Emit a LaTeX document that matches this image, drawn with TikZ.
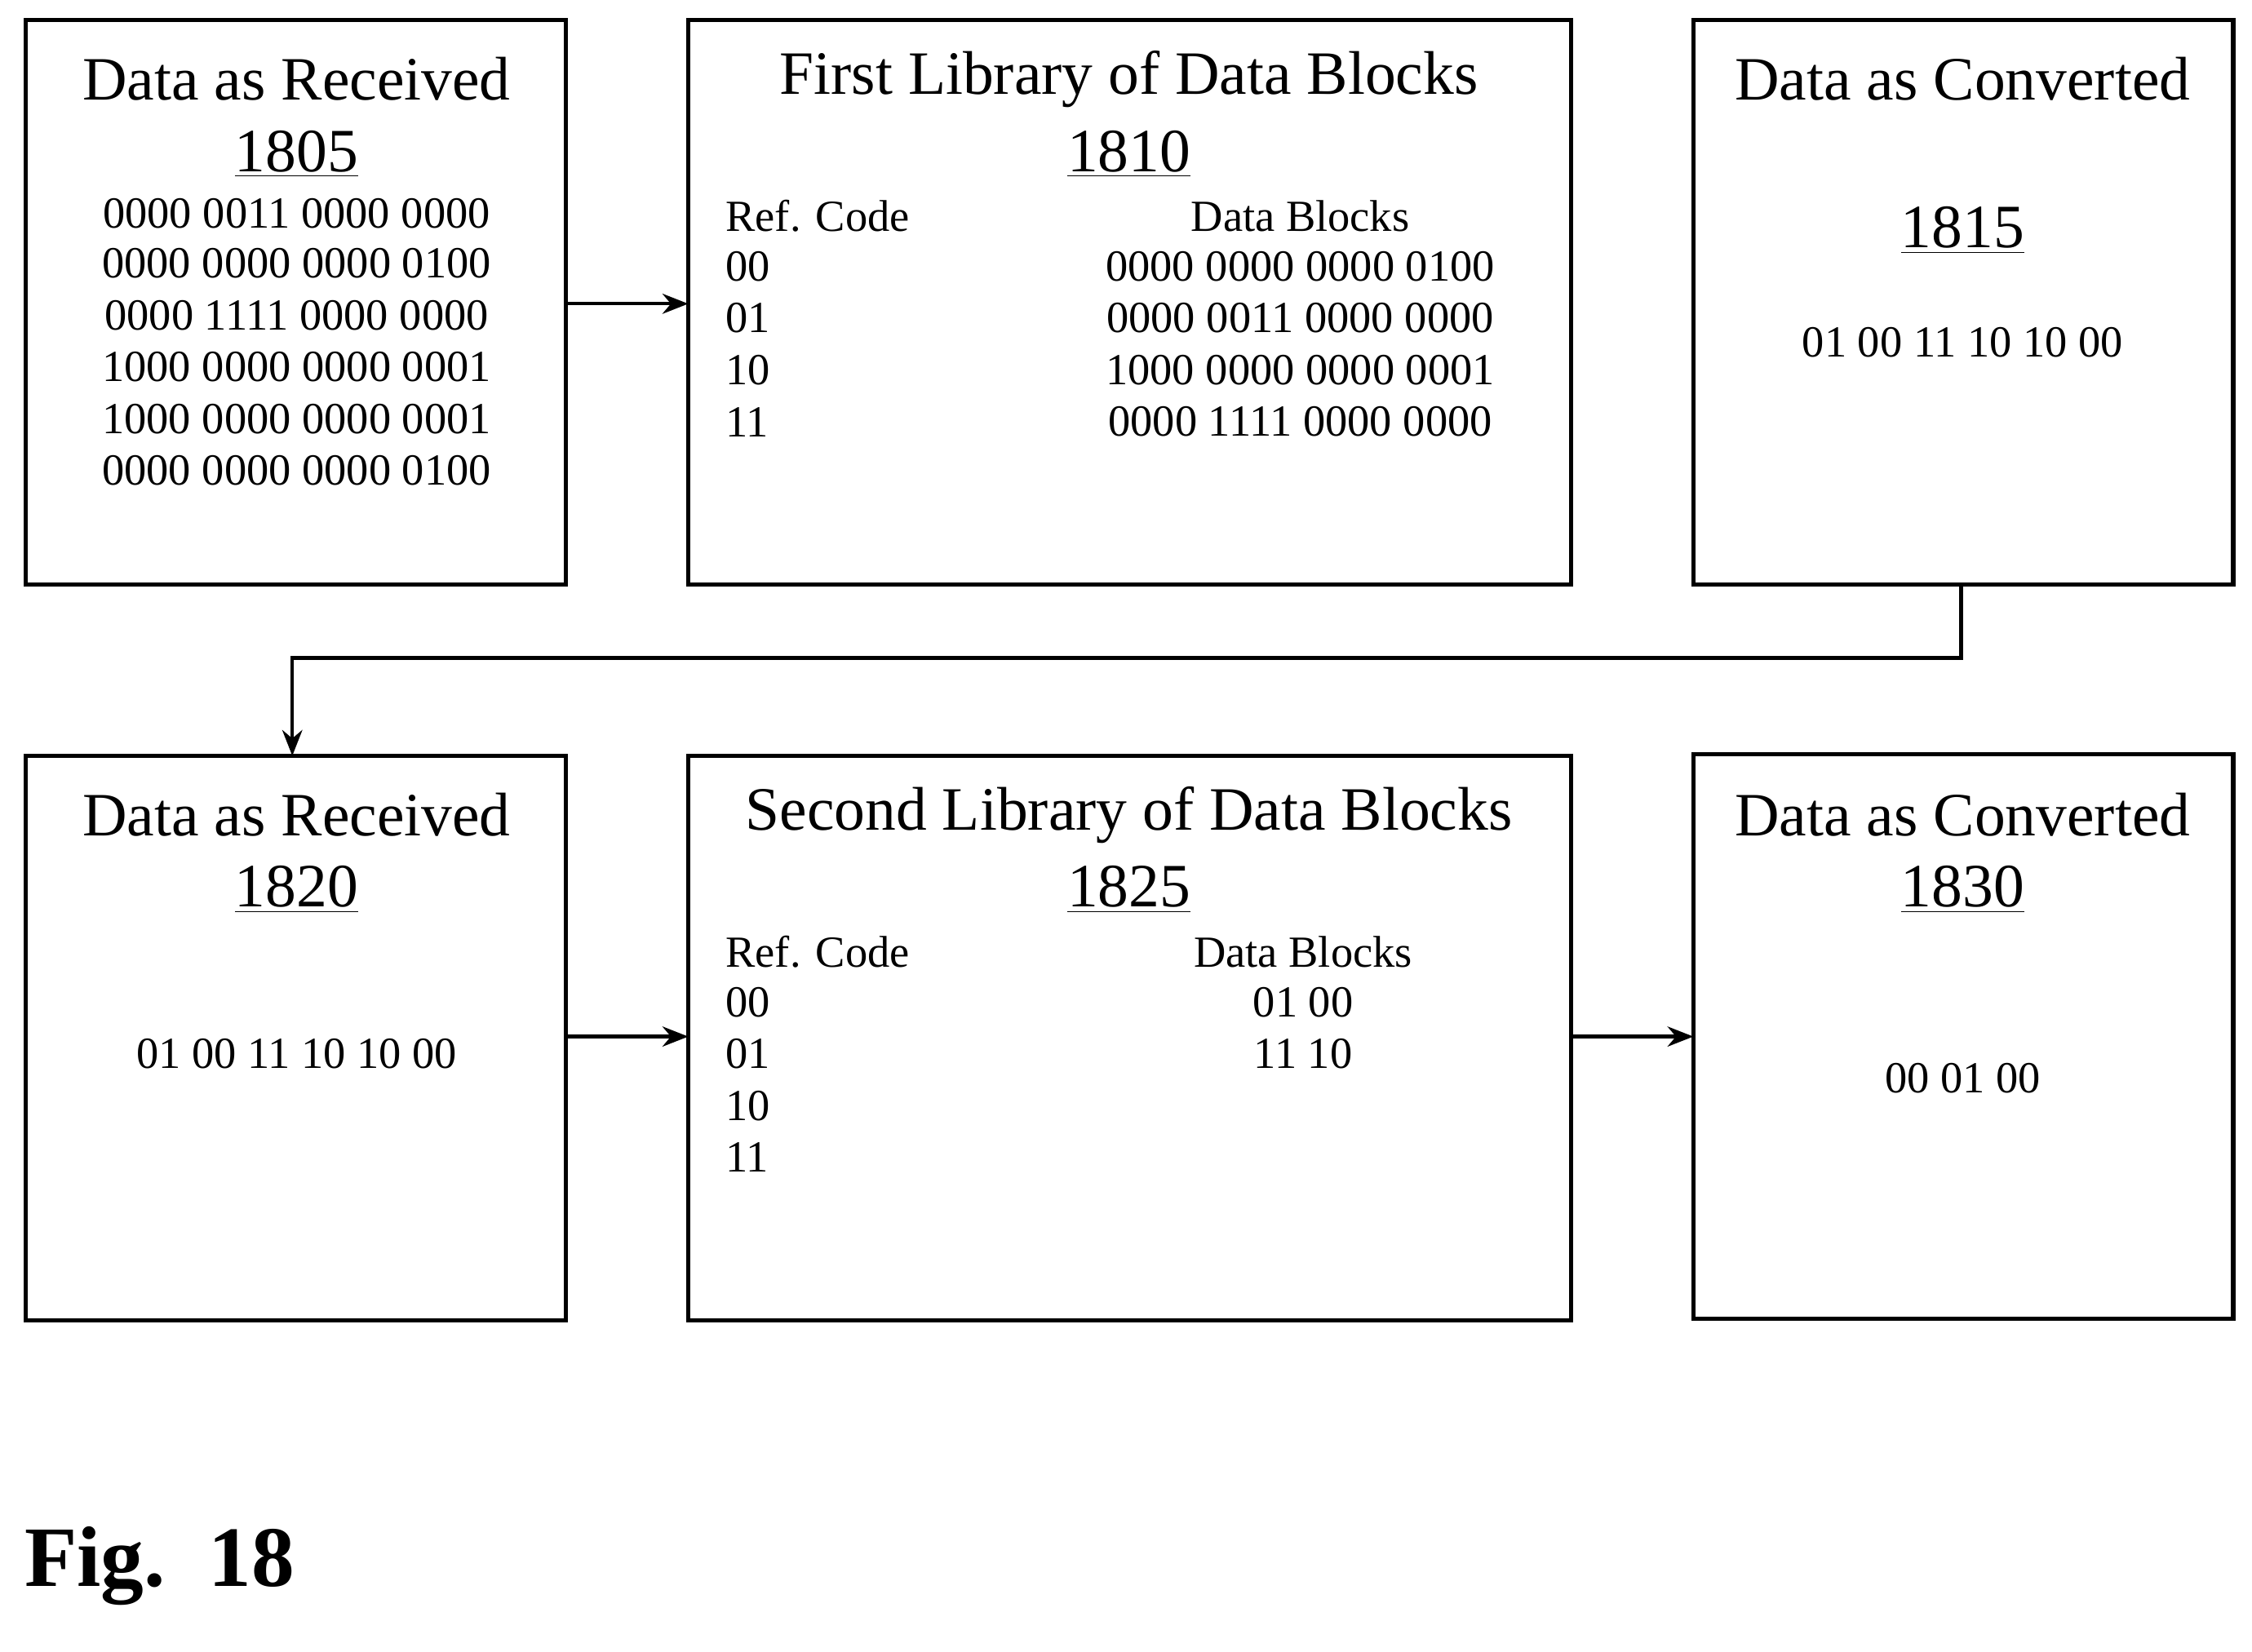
\documentclass[tikz,border=0pt]{standalone}
\usepackage{fontspec}
\usetikzlibrary{arrows.meta}
\setmainfont{Liberation Serif}
\begin{document}
\begin{tikzpicture}[x=0.01765cm,y=-0.01765cm,
 box/.style={draw,line width=1.5pt},
 ttl/.style={font=\fontsize{21.5}{24}\selectfont,anchor=center},
 dat/.style={font=\fontsize{15.5}{17}\selectfont,anchor=center},
 datl/.style={font=\fontsize{15.5}{17}\selectfont,anchor=west},
 arr/.style={line width=1.2pt,-{Stealth[length=9pt,width=7pt]}}]
\useasboundingbox (0,0) rectangle (1564,1147);
\draw[box] (18,14) rectangle (393,406); \coordinate (b1e) at (393,211);
\draw[box] (478,14) rectangle (1091,406); \coordinate (b2w) at (478,211);
\draw[box] (1176,14) rectangle (1551,406); \coordinate (b3s) at (1362,406);
\draw[box] (18,525) rectangle (393,917); \coordinate (b4n) at (203,525); \coordinate (b4e) at (393,720);
\draw[box] (478,525) rectangle (1091,917); \coordinate (b5w) at (478,720); \coordinate (b5e) at (1091,720);
\draw[box] (1176,524) rectangle (1551,916); \coordinate (b6w) at (1176,720);
% box 1
\node[ttl] (t1) at (206,55) {Data as Received};
\node[ttl] (n1) at (206,107) {\underline{1805}};
\foreach \s/\y [count=\i] in {0000 0011 0000 0000/148,0000 0000 0000 0100/183,0000 1111 0000 0000/219,1000 0000 0000 0001/255,1000 0000 0000 0001/291,0000 0000 0000 0100/327}
  \node[dat] (a\i) at (206,\y) {\s};
% box 2
\node[ttl] (t2) at (784,55) {First Library of Data Blocks};
\node[ttl] (n2) at (784,107) {\underline{1810}};
\node[datl] (rc1) at (497,150) {Ref. Code};
\node[dat] (db1) at (903,150) {Data Blocks};
\foreach \c/\s/\y [count=\i] in {00/0000 0000 0000 0100/185,01/0000 0011 0000 0000/221,10/1000 0000 0000 0001/257,11/0000 1111 0000 0000/293}
  {\node[datl] (c\i) at (497,\y) {\c}; \node[dat] (d\i) at (903,\y) {\s};}
% box 3
\node[ttl] (t3) at (1363,55) {Data as Converted};
\node[ttl] (n3) at (1363,160) {\underline{1815}};
\node[dat] (v3) at (1363,238) {01 00 11 10 10 00};
% box 4
\node[ttl] (t4) at (206,566) {Data as Received};
\node[ttl] (n4) at (206,618) {\underline{1820}};
\node[dat] (v4) at (206,732) {01 00 11 10 10 00};
% box 5
\node[ttl] (t5) at (784,566) {Second Library of Data Blocks};
\node[ttl] (n5) at (784,618) {\underline{1825}};
\node[datl] (rc2) at (497,661) {Ref. Code};
\node[dat] (db2) at (905,661) {Data Blocks};
\foreach \c/\y [count=\i] in {00/696,01/732,10/768,11/804}
  \node[datl] (e\i) at (497,\y) {\c};
\node[dat] (f1) at (905,696) {01 00};
\node[dat] (f2) at (905,732) {11 10};
% box 6
\node[ttl] (t6) at (1363,566) {Data as Converted};
\node[ttl] (n6) at (1363,618) {\underline{1830}};
\node[dat] (v6) at (1363,749) {00 01 00};
% arrows
\draw[arr] (b1e) -- (b2w);
\draw[arr] (b3s) -- (1362,457) -- (203,457) -- (b4n);
\draw[arr] (b4e) -- (b5w);
\draw[arr] (b5e) -- (b6w);
\node[anchor=west,font=\fontsize{30}{34}\selectfont\bfseries] (fig) at (10,1088) {Fig.\ \ 18};
\end{tikzpicture}
\end{document}
